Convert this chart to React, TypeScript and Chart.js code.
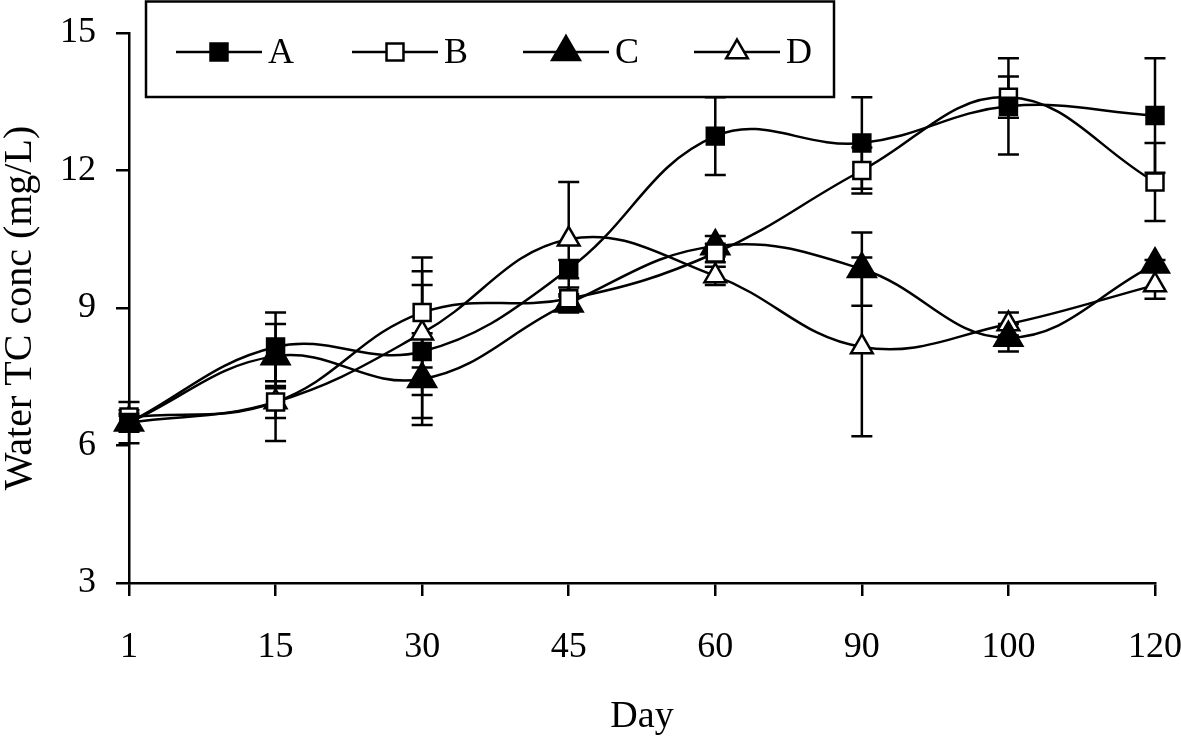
import React, { useEffect, useRef } from "react";
import { Chart, registerables } from "chart.js";

Chart.register(...registerables);

const days = ["1", "15", "30", "45", "60", "90", "100", "120"];
const yTicks = [3, 6, 9, 12, 15];

const seriesNames = ["A", "B", "C", "D"];
const valuesA = [6.5, 8.15, 8.05, 9.85, 12.75, 12.6, 13.4, 13.2];
const errorsA = [0.45, 0.75, 1.45, 0.2, 0.85, 1.0, 1.05, 1.25];
const valuesB = [6.62, 6.95, 8.9, 9.2, 10.2, 12.0, 13.6, 11.75];
const errorsB = [0.15, 0.35, 1.2, 0.25, 0.2, 0.5, 0.45, 0.85];
const valuesC = [6.5, 7.95, 7.45, 9.1, 10.35, 9.85, 8.35, 9.95];
const errorsC = [0.15, 0.7, 1.0, 0.2, 0.22, 0.8, 0.3, 0.1];
const valuesD = [6.5, 6.95, 8.45, 10.5, 9.7, 8.15, 8.65, 9.5];
const errorsD = [0.2, 0.85, 1.35, 1.25, 0.2, 1.95, 0.25, 0.3];

const FONT = "'Liberation Serif', 'Times New Roman', serif";

type Style = { shape: "rect" | "triangle"; filled: boolean; radius: number };
const styles: Style[] = [
  { shape: "rect", filled: true, radius: 12 },
  { shape: "rect", filled: false, radius: 12 },
  { shape: "triangle", filled: true, radius: 16 },
  { shape: "triangle", filled: false, radius: 12.5 },
];

function drawMarker(ctx: CanvasRenderingContext2D, x: number, y: number, s: Style) {
  ctx.save();
  ctx.beginPath();
  if (s.shape === "rect") {
    const h = Math.SQRT1_2 * s.radius;
    ctx.rect(x - h, y - h, 2 * h, 2 * h);
  } else {
    const r = s.radius;
    const a = (2 * Math.PI) / 3;
    ctx.moveTo(x, y - r);
    ctx.lineTo(x + Math.sin(a) * r, y - Math.cos(a) * r);
    ctx.lineTo(x + Math.sin(2 * a) * r, y - Math.cos(2 * a) * r);
    ctx.closePath();
  }
  ctx.fillStyle = s.filled ? "#000" : "#fff";
  ctx.fill();
  ctx.lineWidth = 2.5;
  ctx.strokeStyle = "#000";
  ctx.stroke();
  ctx.restore();
}

const errorBarPlugin = {
  id: "errorBars",
  beforeDatasetsDraw(chart: any) {
    const ctx = chart.ctx;
    const yScale = chart.scales.y;
    ctx.save();
    ctx.strokeStyle = "#000";
    ctx.lineWidth = 2.5;
    chart.data.datasets.forEach((ds: any, di: number) => {
      const meta = chart.getDatasetMeta(di);
      meta.data.forEach((pt: any, i: number) => {
        const v = ds.data[i];
        const e = ds.errors[i];
        const x = pt.x;
        const yTop = yScale.getPixelForValue(v + e);
        const yBot = yScale.getPixelForValue(v - e);
        ctx.beginPath();
        ctx.moveTo(x, yTop);
        ctx.lineTo(x, yBot);
        ctx.moveTo(x - 10.5, yTop);
        ctx.lineTo(x + 10.5, yTop);
        ctx.moveTo(x - 10.5, yBot);
        ctx.lineTo(x + 10.5, yBot);
        ctx.stroke();
      });
    });
    ctx.restore();
  },
};

const legendPlugin = {
  id: "boxLegend",
  afterDraw(chart: any) {
    const ctx = chart.ctx;
    ctx.save();
    ctx.strokeStyle = "#000";
    ctx.lineWidth = 2.5;
    ctx.strokeRect(146, 1.5, 688, 95.5);
    const starts = [176, 352, 523, 694];
    const yc = 52;
    seriesNames.forEach((name, i) => {
      const x0 = starts[i];
      ctx.beginPath();
      ctx.moveTo(x0, yc);
      ctx.lineTo(x0 + 86, yc);
      ctx.lineWidth = 2.5;
      ctx.stroke();
      drawMarker(ctx, x0 + 43, yc, styles[i]);
      ctx.fillStyle = "#000";
      ctx.font = `36px ${FONT}`;
      ctx.textBaseline = "middle";
      ctx.textAlign = "left";
      ctx.fillText(name, x0 + 92, yc + 2);
    });
    ctx.restore();
  },
};

export default function App() {
  const canvasRef = useRef<HTMLCanvasElement | null>(null);

  useEffect(() => {
    if (!canvasRef.current) return;
    const allValues = [valuesA, valuesB, valuesC, valuesD];
    const allErrors = [errorsA, errorsB, errorsC, errorsD];
    const chart = new Chart(canvasRef.current, {
      type: "line",
      data: {
        labels: days,
        datasets: seriesNames.map((name, i) => ({
          label: name,
          data: allValues[i],
          errors: allErrors[i],
          borderColor: "#000",
          borderWidth: 2.5,
          backgroundColor: styles[i].filled ? "#000" : "#fff",
          pointBackgroundColor: styles[i].filled ? "#000" : "#fff",
          pointBorderColor: "#000",
          pointBorderWidth: 2.5,
          pointStyle: styles[i].shape,
          pointRadius: styles[i].radius,
          pointHoverRadius: styles[i].radius,
          tension: 0.4,
          fill: false,
        })) as any,
      },
      options: {
        animation: false,
        responsive: false,
        events: [],
        layout: { padding: { left: 0, top: 33, right: 26, bottom: 0 } },
        plugins: {
          legend: { display: false },
          tooltip: { enabled: false },
          title: { display: false },
        },
        scales: {
          x: {
            type: "category",
            offset: false,
            afterFit: (s: any) => {
              s.height = 159;
              s.paddingLeft = 0;
              s.paddingRight = 0;
            },
            grid: {
              display: true,
              drawOnChartArea: false,
              drawTicks: true,
              tickLength: 13,
              color: "#000",
              lineWidth: 2.5,
            },
            border: { display: true, color: "#000", width: 2.5 },
            ticks: {
              color: "#000",
              font: { family: FONT, size: 36 },
              padding: 30,
              maxRotation: 0,
              autoSkip: false,
            },
            title: {
              display: true,
              text: "Day",
              color: "#000",
              font: { family: FONT, size: 38 },
              padding: { top: 0, bottom: 2 },
            },
          },
          y: {
            min: 3,
            max: 15,
            afterFit: (s: any) => {
              s.width = 129;
              s.paddingTop = 0;
              s.paddingBottom = 0;
            },
            afterBuildTicks: (s: any) => {
              s.ticks = yTicks.map((v) => ({ value: v }));
            },
            grid: {
              display: true,
              drawOnChartArea: false,
              drawTicks: true,
              tickLength: 13,
              color: "#000",
              lineWidth: 2.5,
            },
            border: { display: true, color: "#000", width: 2.5 },
            ticks: {
              color: "#000",
              font: { family: FONT, size: 36 },
              padding: 20,
            },
            title: {
              display: true,
              text: "Water TC conc (mg/L)",
              color: "#000",
              font: { family: FONT, size: 40, lineHeight: 1 },
              padding: { top: 0, bottom: 0 },
            },
          },
        },
      } as any,
      plugins: [errorBarPlugin, legendPlugin],
    });
    return () => chart.destroy();
  }, []);

  return (
    <div style={{ position: "absolute", left: 0, top: 0, width: 1181, height: 742, background: "#fff" }}>
      <canvas ref={canvasRef} width={1181} height={742} />
    </div>
  );
}
